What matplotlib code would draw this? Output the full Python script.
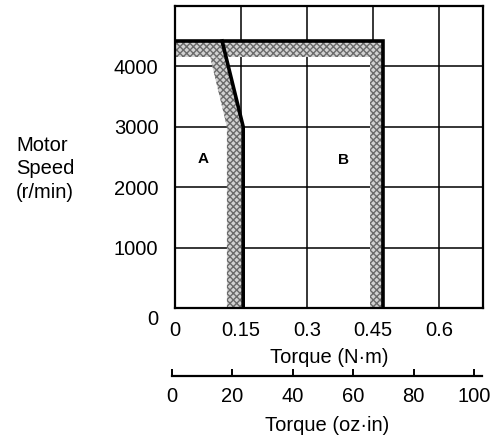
import numpy as np
import matplotlib.pyplot as plt
from matplotlib.transforms import ScaledTranslation

plt.rcParams['font.family'] = ['Liberation Sans', 'DejaVu Sans']

# torque limit lines (N·m, r/min)
torque_a = [0.107, 0.155, 0.155]
speed_a = [4420, 3000, 0]
torque_b = [0.0, 0.473, 0.473]
speed_b = [4420, 4420, 0]

# shaded bands along the limits
band_a_x = [0.080, 0.118, 0.118, 0.152, 0.152, 0.116]
band_a_y = [4150, 3000, 0, 0, 3000, 4150]
band_b_x = [0.0, 0.443, 0.443, 0.473, 0.473, 0.0]
band_b_y = [4150, 4150, 0, 0, 4400, 4400]

nm_ticks = [0, 0.15, 0.3, 0.45, 0.6]
nm_labels = ['0', '0.15', '0.3', '0.45', '0.6']
speed_ticks = [0, 1000, 2000, 3000, 4000]
ozin_ticks = [0, 20, 40, 60, 80, 100]

fs = 14.5
fig = plt.figure(figsize=(4.99, 4.40), dpi=100)
ax = fig.add_axes([175/499, 1-308/440, 308/499, 302/440])

for x, y in [(band_a_x, band_a_y), (band_b_x, band_b_y)]:
    ax.fill(x, y, facecolor='#d2d2d2', edgecolor='#6a6a6a', hatch='xxxxx',
            linewidth=0, zorder=2)
ax.plot(torque_a, speed_a, color='black', lw=2.6, zorder=3, solid_joinstyle='miter')
ax.plot(torque_b, speed_b, color='black', lw=2.6, zorder=3, solid_joinstyle='miter')

ax.set_xlim(0, 0.7)
ax.set_ylim(0, 5000)
ax.set_xticks(nm_ticks)
ax.set_xticklabels(nm_labels)
ax.set_yticks(speed_ticks)
ax.tick_params(length=0, labelsize=fs)
ax.tick_params(axis='x', pad=9)
ax.tick_params(axis='y', pad=12)
ax.grid(True, color='black', lw=1.1, zorder=1)
ax.set_axisbelow(True)
for s in ax.spines.values():
    s.set_linewidth(1.6)

# drop the "0" speed label a little, as in the original
lab0 = ax.get_yticklabels()[0]
lab0.set_transform(lab0.get_transform() + ScaledTranslation(0, -7/72, fig.dpi_scale_trans))

ax.set_xlabel('Torque (N·m)', fontsize=fs, labelpad=6)
ax.text(0.064, 2470, 'A', fontsize=11, fontweight='bold', ha='center', va='center')
ax.text(0.382, 2450, 'B', fontsize=11, fontweight='bold', ha='center', va='center')

fig.text(16/499, 1-169/440, 'Motor\nSpeed\n(r/min)', fontsize=fs,
         ha='left', va='center', linespacing=1.3)

# second scale in oz·in
ax2 = fig.add_axes([172/499, 1-376/440, 310/499, 0.0001])
ax2.set_xlim(0, 102.6)
ax2.set_xticks(ozin_ticks)
ax2.set_yticks([])
for k in ['top', 'left', 'right']:
    ax2.spines[k].set_visible(False)
ax2.spines['bottom'].set_linewidth(1.6)
ax2.tick_params(axis='x', direction='in', length=5, width=1.4, labelsize=fs, pad=8)
ax2.patch.set_visible(False)
ax2.set_xlabel('Torque (oz·in)', fontsize=fs, labelpad=7)

fig.savefig('out.png', dpi=100)
